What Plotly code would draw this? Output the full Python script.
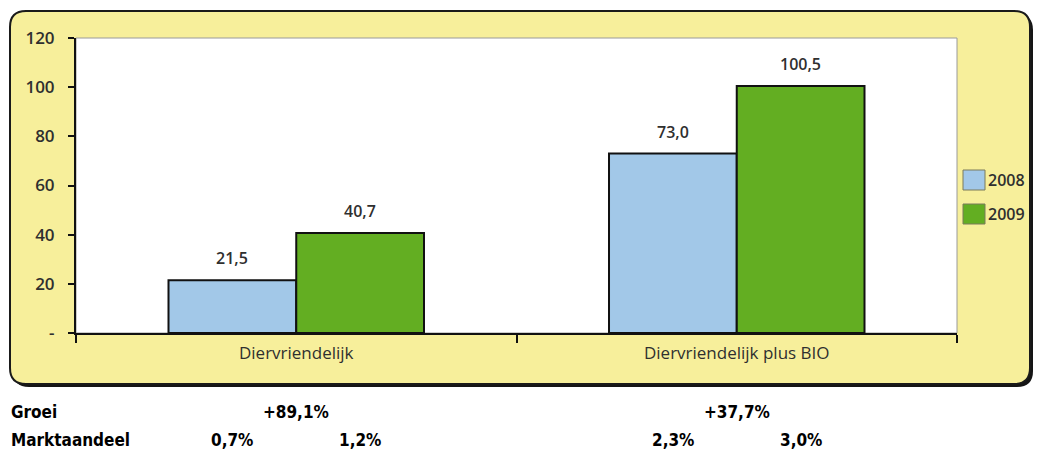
import plotly.graph_objects as go

# ---- data ----
categories = ["Diervriendelijk", "Diervriendelijk plus BIO"]
years = ["2008", "2009"]
values_2008 = [21.5, 73.0]
values_2009 = [40.7, 100.5]
colors = ["#A2C8E8", "#63AE22"]
groei = ["+89,1%", "+37,7%"]
markt_2008 = ["0,7%", "2,3%"]
markt_2009 = ["1,2%", "3,0%"]
y_ticks = [0, 20, 40, 60, 80, 100, 120]
y_ticktext = ["-", "20", "40", "60", "80", "100", "120"]

W, H = 1041, 451
L, R, T, B = 76, 957, 38, 333  # plot area in pixels
BARGAP = 0.42

def px(x):
    return (x - L) / (R - L)

def py(y):
    return (B - y) / (B - T)

def rounded_rect(x0, y0, x1, y1, r):
    rx = r / (R - L)
    ry = r / (B - T)
    X0, X1 = px(x0), px(x1)
    Y0, Y1 = py(y0), py(y1)  # Y0 top (larger), Y1 bottom
    return (f"M {X0+rx},{Y0} L {X1-rx},{Y0} Q {X1},{Y0} {X1},{Y0-ry} "
            f"L {X1},{Y1+ry} Q {X1},{Y1} {X1-rx},{Y1} "
            f"L {X0+rx},{Y1} Q {X0},{Y1} {X0},{Y1+ry} "
            f"L {X0},{Y0-ry} Q {X0},{Y0} {X0+rx},{Y0} Z")

txt = "#2f2f2f"
font_chart = "Open Sans, Lato, sans-serif"
font_table = "DejaVu Sans Condensed, Roboto, sans-serif"

fig = go.Figure()
for yr, vals, col in zip(years, [values_2008, values_2009], colors):
    fig.add_trace(go.Bar(
        x=categories, y=vals, name=yr,
        marker=dict(color=col, line=dict(color="#111111", width=2)),
        showlegend=False,
    ))

shapes = [
    # shadow
    dict(type="path", xref="paper", yref="paper", layer="below",
         path=rounded_rect(13, 14, 1033, 387, 16),
         fillcolor="#151515", line=dict(width=0)),
    # yellow box
    dict(type="path", xref="paper", yref="paper", layer="below",
         path=rounded_rect(10, 11, 1030, 384, 16),
         fillcolor="#F7EF9B", line=dict(color="#1a1a1a", width=2)),
    # white plot area
    dict(type="rect", xref="paper", yref="paper", layer="below",
         x0=px(L), x1=px(R), y0=py(B), y1=py(T),
         fillcolor="white", line=dict(color="#9a9a9a", width=1)),
    # short extension of the x axis line to the left of the y axis
    dict(type="line", xref="paper", yref="paper", layer="above",
         x0=px(69), x1=px(L), y0=0, y1=0, line=dict(color="#111111", width=2)),
]

annotations = []
offset = (1 - BARGAP) / 4
for i, cat in enumerate(categories):
    for vals, sgn in ((values_2008, -1), (values_2009, 1)):
        annotations.append(dict(
            x=i + sgn * offset, y=vals[i], xref="x", yref="y",
            text=f"{vals[i]:.1f}".replace(".", ","), showarrow=False,
            yanchor="middle", yshift=22,
            font=dict(family=font_chart, size=16, color=txt, weight=600)))

# legend (manual, larger swatches)
for k, (yr, col) in enumerate(zip(years, colors)):
    yc = 180 + k * 34
    shapes.append(dict(type="rect", xref="paper", yref="paper",
                       x0=px(963), x1=px(985), y0=py(yc + 10), y1=py(yc - 10),
                       fillcolor=col, line=dict(color="#7a7a5a", width=1)))
    annotations.append(dict(x=px(986), y=py(yc), xref="paper", yref="paper",
                            text=yr, showarrow=False, xanchor="left", yanchor="middle",
                            font=dict(family=font_chart, size=16, color=txt, weight=600)))

# table below chart
tfont = dict(family=font_table, size=17, color="#000000", weight="bold")
y_groei, y_markt = py(412), py(440)
annotations.append(dict(x=px(9), y=y_groei, xref="paper", yref="paper", text="Groei",
                        showarrow=False, xanchor="left", yanchor="middle", font=tfont))
annotations.append(dict(x=px(9), y=y_markt, xref="paper", yref="paper", text="Marktaandeel",
                        showarrow=False, xanchor="left", yanchor="middle", font=tfont))
for i in range(len(categories)):
    annotations.append(dict(x=i, y=y_groei, xref="x", yref="paper", text=groei[i],
                            showarrow=False, yanchor="middle", font=tfont))
    annotations.append(dict(x=i - offset, y=y_markt, xref="x", yref="paper", text=markt_2008[i],
                            showarrow=False, yanchor="middle", font=tfont))
    annotations.append(dict(x=i + offset, y=y_markt, xref="x", yref="paper", text=markt_2009[i],
                            showarrow=False, yanchor="middle", font=tfont))

fig.update_layout(
    width=W, height=H,
    margin=dict(l=L, r=W - R, t=T, b=H - B, pad=0),
    paper_bgcolor="white", plot_bgcolor="rgba(0,0,0,0)",
    barmode="group", bargap=BARGAP, bargroupgap=0,
    separators=",.",
    shapes=shapes, annotations=annotations,
    xaxis=dict(showgrid=False, showline=True, linecolor="#111111", linewidth=2,
               ticks="outside", tickson="boundaries", ticklen=8, tickwidth=2,
               tickcolor="#111111", ticklabelstandoff=4,
               tickfont=dict(family=font_chart, size=17, color=txt)),
    yaxis=dict(range=[0, 120], showgrid=False, zeroline=False, showline=True,
               linecolor="#111111", linewidth=2, ticks="outside", ticklen=6,
               tickwidth=2, tickcolor="#111111", ticklabelstandoff=10,
               tickvals=y_ticks, ticktext=y_ticktext,
               tickfont=dict(family=font_chart, size=17, color=txt, weight=600)),
)

fig.write_html("out.html")
